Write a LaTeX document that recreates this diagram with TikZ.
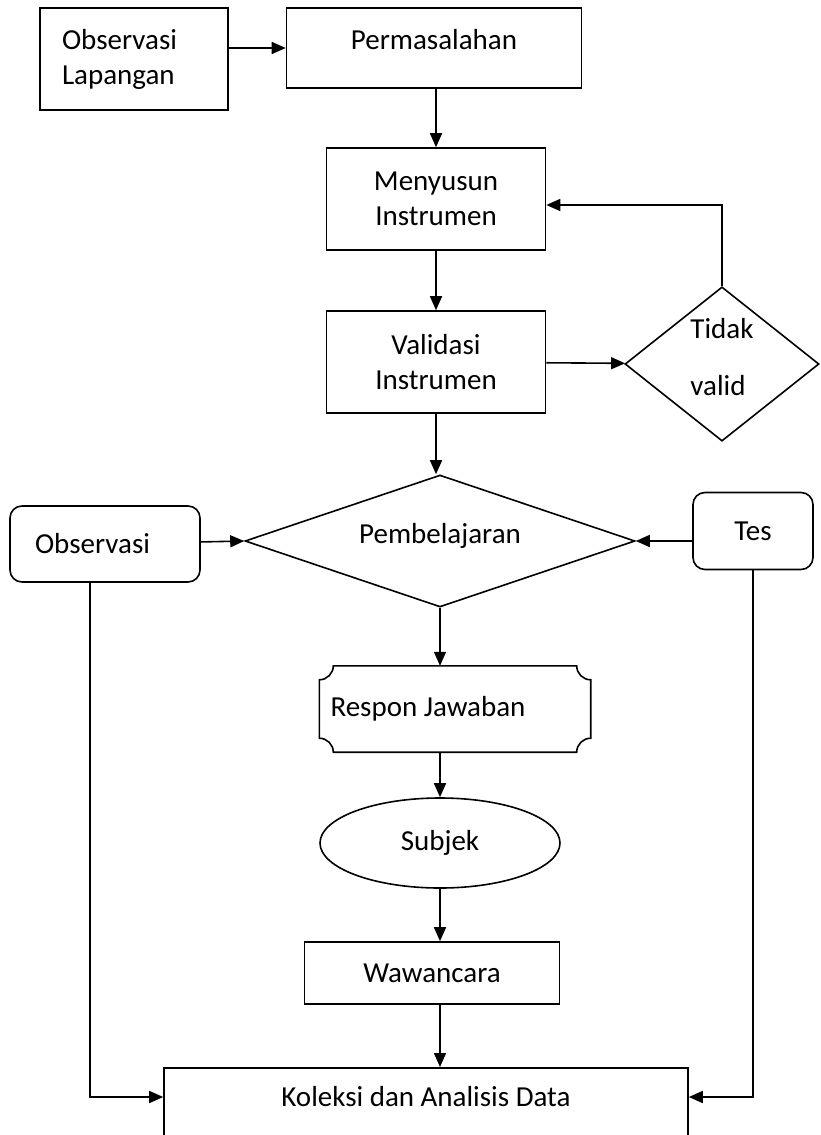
\documentclass[tikz,border=0pt]{standalone}
\usepackage{fontspec}
\setmainfont{Carlito}
\usetikzlibrary{arrows.meta, positioning, shapes.geometric, calc}
\newcommand{\flowfont}{\fontsize{29}{35}\selectfont}

\tikzset{
  box/.style={draw, line width=1.6pt, rectangle, align=center, font=\flowfont},
  rbox/.style={box, rounded corners=12pt},
  dia/.style={draw, line width=1.6pt, diamond, inner sep=0pt, align=center, font=\flowfont},
  oval/.style={draw, line width=1.6pt, ellipse, inner sep=0pt, font=\flowfont},
  arr/.style={line width=1.6pt, -{Triangle[length=14pt,width=12pt]}},
}

\begin{document}
\begin{tikzpicture}[x=1pt, y=1pt]
    \useasboundingbox (0,0) rectangle (820,-1135);

    % top row
    \node[box, minimum width=188pt, minimum height=102pt, text width=144pt, inner xsep=22pt, align=flush left] (obslap) at (134,-59) {Observasi\\Lapangan};
    \node[box, minimum width=295pt, minimum height=80pt, text depth=18pt] (perm) at (434,-48) {Permasalahan};

    % instrument column
    \node[box, minimum width=219pt, minimum height=102pt] (men) at (436,-199) {Menyusun\\Instrumen};
    \node[box, minimum width=219pt, minimum height=102pt] (val) at (436,-362) {Validasi\\Instrumen};
    \node[dia, minimum width=194pt, minimum height=150pt, align=flush left, text depth=14pt] (tidak) at (722,-364) {Tidak\\[22pt]valid};

    % learning row
    \node[dia, aspect=3, minimum width=390pt, minimum height=132pt, text depth=16pt] (pemb) at (440,-541) {Pembelajaran};
    \node[rbox, minimum width=190pt, minimum height=76pt, text width=140pt, inner xsep=25pt, align=flush left] (obs) at (105,-544) {Observasi};
    \node[rbox, minimum width=120pt, minimum height=77pt] (tes) at (753,-531) {Tes};

    % respon jawaban, concave corners
    \node[minimum width=271pt, minimum height=86pt, text width=249pt, inner xsep=11pt, align=flush left, font=\flowfont] (resp) at (455,-709) {Respon Jawaban};
    \draw[line width=1.6pt]
        ([xshift=14pt]resp.north west) -- ([xshift=-14pt]resp.north east)
        arc[start angle=180, end angle=270, radius=14pt] -- ([yshift=14pt]resp.south east)
        arc[start angle=90, end angle=180, radius=14pt] -- ([xshift=14pt]resp.south west)
        arc[start angle=0, end angle=90, radius=14pt] -- ([yshift=-14pt]resp.north west)
        arc[start angle=270, end angle=360, radius=14pt] -- cycle;

    \node[oval, minimum width=240pt, minimum height=90pt] (subj) at (440,-843) {Subjek};
    \node[box, minimum width=255pt, minimum height=62pt] (waw) at (432,-973) {Wawancara};
    \node[box, anchor=north, minimum width=524pt, text height=32pt, text depth=100pt, inner ysep=7pt] (kol) at (426,-1067) {Koleksi dan Analisis Data};
    \coordinate (kolL) at ([yshift=-30pt]kol.north west);
    \coordinate (kolR) at ([yshift=-30pt]kol.north east);

    % connectors
    \draw[arr] (obslap.east |- perm.west) -- (perm.west);
    \draw[arr] (perm.south -| men.north) -- (men.north);
    \draw[arr] (men) -- (val);
    \draw[arr] (val) -- (tidak);
    \draw[arr] (tidak.north) |- ([yshift=-6pt]men.east);
    \draw[arr] (val.south) -- (val.south |- pemb.north);
    \draw[arr] (obs) -- (pemb.west);
    \draw[arr] (tes.west |- pemb.east) -- (pemb.east);
    \draw[arr] (pemb.south -| subj.north) -- (subj.north |- resp.north);
    \draw[arr] (subj.north |- resp.south) -- (subj.north);
    \draw[arr] (subj.south) -- (subj.south |- waw.north);
    \draw[arr] (subj.south |- waw.south) -- (subj.south |- kol.north);
    \draw[arr] ([xshift=-15pt]obs.south) |- (kolL);
    \draw[arr] (tes.south) |- (kolR);
\end{tikzpicture}
\end{document}
